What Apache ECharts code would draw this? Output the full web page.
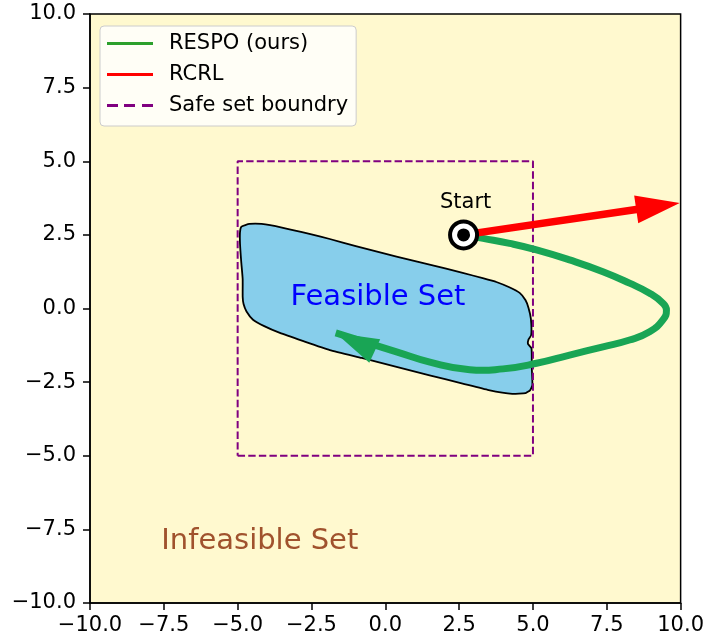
<!DOCTYPE html>
<html>
<head>
<meta charset="utf-8">
<script src="https://cdn.jsdelivr.net/npm/echarts@6/dist/echarts.min.js"></script>
<style>html,body{margin:0;padding:0;background:#fff}#c{width:707px;height:641px}</style>
</head>
<body>
<div id="c"></div>
<script>
// ---- data ----
const axisTicks = [-10, -7.5, -5, -2.5, 0, 2.5, 5, 7.5, 10];
const startPoint = [2.65, 2.5];
const rcrlTip = [9.97, 3.58];
const respoX = [2.65, 3.31, 4.21, 5.12, 6.24, 7.37, 8.27, 8.95, 9.40, 9.52, 9.40, 8.95, 8.27, 7.37, 6.24, 5.12, 3.99, 2.86, 1.51, 0.38, -1.68];
const respoY = [2.50, 2.38, 2.21, 1.99, 1.65, 1.25, 0.86, 0.52, 0.18, -0.05, -0.39, -0.79, -1.07, -1.30, -1.58, -1.86, -2.05, -2.08, -1.82, -1.47, -0.83];
const respoHeadBase = [-0.36, -1.44];
const safeX = [-5, 5, 5, -5, -5];
const safeY = [-5, -5, 5, 5, -5];
const feasibleX = [-4.87, -4.60, -4.19, -3.5, -2.5, -1.88, -1.0, 0.38, 1.5, 2.62, 3.3, 3.76, 4.2, 4.55, 4.75, 4.85, 4.93, 4.94, 4.85, 4.83, 4.95, 4.96, 4.98, 4.9, 4.75, 4.3, 3.5, 2.62, 1.5, 0.38, -0.8, -1.88, -2.8, -3.57, -4.1, -4.48, -4.7, -4.8, -4.83, -4.83, -4.88, -4.92, -4.92];
const feasibleY = [2.78, 2.87, 2.87, 2.75, 2.52, 2.36, 2.12, 1.76, 1.49, 1.21, 1.03, 0.90, 0.72, 0.53, 0.28, 0.02, -0.35, -0.9, -1.05, -1.2, -1.35, -2.0, -2.6, -2.78, -2.87, -2.9, -2.77, -2.55, -2.27, -1.98, -1.68, -1.41, -1.1, -0.83, -0.6, -0.38, -0.1, 0.15, 0.4, 1.0, 1.6, 2.2, 2.6];
const labels = [
  {text: 'Feasible Set', x: -0.25, y: 0.39},
  {text: 'Infeasible Set', x: -4.25, y: -7.9},
  {text: 'Start', x: 2.72, y: 3.6}
];
const seriesNames = ['RESPO (ours)', 'RCRL', 'Safe set boundry'];

// ---- build ----
const zip = (xs, ys) => xs.map((x, i) => [x, ys[i]]);
const respo = zip(respoX, respoY);
const fmt = v => (v < 0 ? '\u2212' : '') + Math.abs(v).toFixed(1);
const FONT = 'DejaVu Sans';
const FS = 21;

function arrowPoly(s, t, hl, hw, sw) {
  const dx = t[0] - s[0], dy = t[1] - s[1];
  const L = Math.hypot(dx, dy), ux = dx / L, uy = dy / L, nx = -uy, ny = ux;
  const bx = t[0] - ux * hl, by = t[1] - uy * hl;
  const pts = [];
  if (sw > 0) {
    pts.push([s[0] + nx * sw, s[1] + ny * sw], [bx + nx * sw, by + ny * sw]);
  }
  pts.push([bx + nx * hw, by + ny * hw], [t[0], t[1]], [bx - nx * hw, by - ny * hw]);
  if (sw > 0) {
    pts.push([bx - nx * sw, by - ny * sw], [s[0] - nx * sw, s[1] - ny * sw]);
  }
  return pts;
}

const axisCommon = {
  type: 'value', min: -10, max: 10, interval: 2.5,
  axisLine: {show: true, onZero: false, lineStyle: {color: '#000', width: 1.5}},
  axisTick: {show: true, inside: false, length: 7, lineStyle: {color: '#000', width: 1.5}},
  axisLabel: {color: '#000', fontFamily: FONT, fontSize: FS, margin: 13, formatter: fmt},
  splitLine: {show: false}
};

const chart = echarts.init(document.getElementById('c'), null, {renderer: 'canvas'});
chart.setOption({
  animation: false,
  grid: {left: 90, right: 26, top: 14, bottom: 38, show: true, backgroundColor: '#fff9cf', borderColor: '#000', borderWidth: 1.5},
  xAxis: Object.assign({}, axisCommon, {axisLabel: Object.assign({}, axisCommon.axisLabel, {margin: 12})}),
  yAxis: Object.assign({}, axisCommon, {axisLabel: Object.assign({}, axisCommon.axisLabel, {margin: 14})}),
  legend: {
    orient: 'vertical', left: 100, top: 26,
    padding: [7, 8, 10, 7], itemGap: 10, itemWidth: 46, itemHeight: 14,
    backgroundColor: 'rgba(255,255,255,0.8)', borderColor: '#cccccc', borderWidth: 1, borderRadius: 4,
    textStyle: {fontFamily: FONT, fontSize: FS, color: '#000', lineHeight: 20.5, padding: [0, 0, 0, 11]},
    data: [
      {name: seriesNames[0], icon: 'path://M0,0H46V3H0Z', itemStyle: {color: '#2ca02c'}},
      {name: seriesNames[1], icon: 'path://M0,0H46V3H0Z', itemStyle: {color: '#ff0000'}},
      {name: seriesNames[2], icon: 'path://M0,0H11V3H0Z M17,0H28V3H17Z M35,0H46V3H35Z', itemStyle: {color: '#800080'}}
    ]
  },
  series: [
    {
      name: 'feasible', type: 'custom', z: 2, silent: true,
      data: [0],
      renderItem: (params, api) => ({
        type: 'polygon',
        shape: {points: feasibleX.map((x, i) => api.coord([x, feasibleY[i]])), smooth: 0.15},
        style: {fill: '#87ceeb', stroke: '#000', lineWidth: 1.8}
      })
    },
    {
      name: seriesNames[2], type: 'line', z: 3, symbol: 'none', silent: true,
      data: zip(safeX, safeY),
      lineStyle: {color: '#800080', width: 2, type: [7.4, 3.2]},
      itemStyle: {color: '#800080'}
    },
    {
      name: seriesNames[0], type: 'custom', z: 4, silent: true,
      itemStyle: {color: '#19a555'},
      data: [0],
      renderItem: (params, api) => ({
        type: 'polyline',
        shape: {points: respo.map(p => api.coord(p)), smooth: 0.5},
        style: {stroke: '#19a555', lineWidth: 7, fill: null, lineCap: 'butt', lineJoin: 'round'}
      })
    },
    {
      name: 'respo-head', type: 'custom', z: 5, silent: true,
      data: [[respoHeadBase[0], respoHeadBase[1], respo[respo.length - 1][0], respo[respo.length - 1][1]]],
      renderItem: (params, api) => {
        const s = api.coord([api.value(0), api.value(1)]);
        const t = api.coord([api.value(2), api.value(3)]);
        return {type: 'polygon', shape: {points: arrowPoly(s, t, 43, 13, 0)}, style: {fill: '#19a555'}};
      }
    },
    {
      name: seriesNames[1], type: 'custom', z: 5, silent: true,
      itemStyle: {color: '#ff0000'},
      data: [[startPoint[0], startPoint[1], rcrlTip[0], rcrlTip[1]]],
      renderItem: (params, api) => {
        const s = api.coord([api.value(0), api.value(1)]);
        const t = api.coord([api.value(2), api.value(3)]);
        return {type: 'polygon', shape: {points: arrowPoly(s, t, 44, 14, 3.7)}, style: {fill: '#ff0000'}};
      }
    },
    {
      name: 'start-outer', type: 'scatter', z: 6, silent: true,
      data: [startPoint], symbol: 'circle', symbolSize: 27,
      itemStyle: {color: '#fff', borderColor: '#000', borderWidth: 4, opacity: 1}
    },
    {
      name: 'start-inner', type: 'scatter', z: 7, silent: true,
      data: [startPoint], symbol: 'circle', symbolSize: 13,
      itemStyle: {color: '#000', opacity: 1}
    },
    {
      name: 'texts', type: 'custom', z: 8, silent: true,
      data: labels.map(l => [l.x, l.y]),
      renderItem: (params, api) => {
        const p = api.coord([api.value(0), api.value(1)]);
        const l = labels[params.dataIndex];
        const styles = [
          {fill: '#0000ff', fontSize: 29},
          {fill: '#a0522d', fontSize: 29},
          {fill: '#000000', fontSize: FS}
        ][params.dataIndex];
        return {
          type: 'text', x: p[0], y: p[1],
          style: {text: l.text, fill: styles.fill, font: styles.fontSize + 'px "' + FONT + '"', align: 'center', verticalAlign: 'middle'}
        };
      }
    }
  ]
});
</script>
</body>
</html>
